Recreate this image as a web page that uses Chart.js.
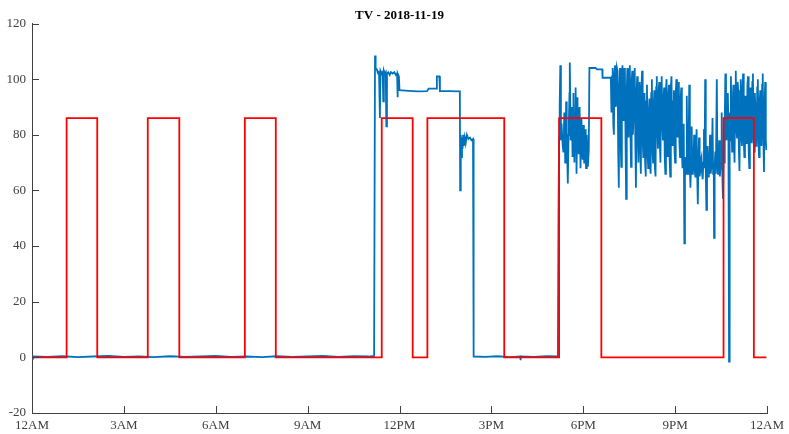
<!DOCTYPE html>
<html>
<head>
<meta charset="utf-8">
<script src="https://cdn.jsdelivr.net/npm/chart.js@4"></script>
<style>
html, body { margin: 0; padding: 0; background: #fff; }
</style>
</head>
<body>
<canvas id="tvChart" width="789" height="434"></canvas>
<script>
// x axis: hours of the day
var xTickLabels = ['12AM', '3AM', '6AM', '9AM', '12PM', '3PM', '6PM', '9PM', '12AM'];

// red on/off schedule (stepped)
var redHours = [0, 1.13, 2.13, 3.78, 4.81, 6.95, 7.96, 11.42, 12.43, 12.91, 15.42, 17.21, 18.59, 22.58, 23.57, 23.98];
var redValues = [0, 86, 0, 86, 0, 86, 0, 86, 0, 86, 0, 86, 0, 86, 0, 0];

// blue power readings, [hour, value]
var blueIdleMorning = [[0, -0.5], [0.03, 0.3], [0.5, 0.2], [1.0, 0.4], [1.5, 0.1], [2.0, 0.3], [2.5, 0.5], [3.0, 0.2],
    [3.5, 0.3], [4.0, 0.1], [4.5, 0.4], [5.0, 0.2], [5.5, 0.3], [6.0, 0.5], [6.5, 0.2], [7.0, 0.3], [7.5, 0.1],
    [8.0, 0.4], [8.5, 0.2], [9.0, 0.3], [9.5, 0.5], [10.0, 0.2], [10.5, 0.4], [11.0, 0.3], [11.17, 0.5]];

var blueNoon = [[11.19, 0.5], [11.20, 108.5], [11.22, 104], [11.26, 103.5], [11.30, 102], [11.33, 103], [11.36, 86],
    [11.38, 103], [11.42, 102], [11.45, 102.5], [11.47, 92], [11.49, 103], [11.52, 102], [11.55, 102.5], [11.57, 83],
    [11.59, 102], [11.63, 102.5], [11.68, 101.5], [11.72, 102.5], [11.78, 102], [11.83, 102.5], [11.88, 101.5],
    [11.92, 102], [11.93, 93.5], [11.95, 102], [11.98, 101], [12.00, 96], [12.3, 95.8], [12.6, 95.6], [12.9, 95.7],
    [12.95, 96.6], [13.2, 96.6], [13.22, 101], [13.30, 101], [13.32, 95.7], [13.6, 95.7], [13.97, 95.6],
    [13.98, 60], [14.00, 80], [14.02, 72], [14.04, 79], [14.06, 75], [14.08, 80], [14.10, 76], [14.13, 79],
    [14.16, 77], [14.20, 80], [14.25, 78.5], [14.30, 79], [14.35, 78], [14.40, 78.5]];

var blueIdleAfternoon = [[14.42, 0.3], [14.8, 0.2], [15.2, 0.4], [15.6, 0.1], [15.94, 0.3], [15.95, -1], [15.96, 0.3],
    [16.4, 0.2], [16.8, 0.4], [17.17, 0.3]];

var blueEvening = [[17.19, 50], [17.21, 79], [17.23, 90], [17.25, 105], [17.27, 78], [17.29, 84], [17.31, 80],
    [17.33, 76], [17.35, 74], [17.37, 82], [17.38, 88], [17.40, 78], [17.41, 70], [17.43, 80], [17.44, 92],
    [17.46, 82], [17.47, 75], [17.49, 70], [17.50, 62.5], [17.52, 80], [17.53, 85], [17.55, 95], [17.56, 106],
    [17.58, 88], [17.59, 78], [17.61, 84], [17.62, 90], [17.64, 80], [17.65, 72], [17.67, 85], [17.68, 95],
    [17.70, 80], [17.71, 70], [17.73, 88], [17.75, 97], [17.77, 78], [17.78, 66], [17.80, 85], [17.81, 93.5],
    [17.83, 80], [17.84, 73], [17.86, 84], [17.88, 90], [17.90, 76], [17.91, 68], [17.93, 80], [17.94, 86],
    [17.96, 76], [17.97, 71], [17.99, 78], [18.00, 83.5], [18.02, 75], [18.03, 70], [18.05, 78], [18.06, 82],
    [18.08, 72], [18.09, 68], [18.11, 76], [18.12, 80], [18.14, 72], [18.15, 68.5], [18.18, 74.5], [18.20, 104],
    [18.40, 104], [18.45, 103.5], [18.62, 103.5], [18.63, 100.5], [18.90, 100.5]];

var blueNight = [
    [18.92, 88], [18.94, 101], [18.96, 104], [18.98, 84], [19.00, 80], [19.02, 102], [19.04, 105], [19.06, 90],
    [19.08, 92], [19.10, 104], [19.12, 103], [19.14, 75], [19.16, 61], [19.18, 97], [19.20, 104], [19.22, 80],
    [19.24, 68.5], [19.26, 100], [19.28, 105], [19.30, 88], [19.32, 85], [19.34, 104], [19.36, 102], [19.38, 78],
    [19.40, 57], [19.42, 96], [19.44, 104], [19.46, 84], [19.48, 79], [19.50, 103], [19.52, 105], [19.54, 82],
    [19.56, 68.5], [19.58, 99], [19.60, 103], [19.62, 80], [19.64, 86], [19.66, 102], [19.68, 104], [19.70, 77],
    [19.72, 61], [19.74, 95], [19.76, 101],
    [19.78, 80], [19.80, 70], [19.82, 94], [19.84, 99], [19.86, 74], [19.88, 66], [19.90, 97], [19.92, 103],
    [19.94, 78], [19.96, 72], [19.98, 90], [20.00, 95], [20.02, 70], [20.04, 65], [20.06, 92], [20.08, 98],
    [20.10, 73], [20.12, 68], [20.14, 88], [20.16, 93], [20.18, 69], [20.20, 66], [20.22, 95], [20.24, 100],
    [20.26, 75], [20.28, 70], [20.30, 91], [20.32, 96], [20.34, 68], [20.36, 65], [20.38, 97], [20.40, 101],
    [20.42, 82], [20.44, 75], [20.46, 95], [20.48, 99], [20.50, 77], [20.52, 70], [20.54, 98], [20.56, 101],
    [20.58, 84], [20.60, 78], [20.62, 93], [20.64, 97], [20.66, 72], [20.68, 66], [20.70, 96], [20.72, 100],
    [20.74, 80], [20.76, 72], [20.78, 94], [20.80, 98], [20.82, 71], [20.84, 65], [20.86, 97], [20.88, 101],
    [20.90, 82], [20.92, 76], [20.94, 92], [20.96, 96], [20.98, 74], [21.00, 70], [21.02, 95], [21.04, 100],
    [21.06, 84], [21.08, 79], [21.10, 96], [21.12, 99], [21.14, 77], [21.16, 72], [21.18, 93], [21.20, 97],
    [21.22, 74], [21.24, 68], [21.26, 80],
    [21.28, 84], [21.30, 41], [21.32, 70], [21.34, 72], [21.36, 66], [21.38, 94], [21.40, 70], [21.42, 66],
    [21.44, 75], [21.46, 98], [21.48, 68], [21.50, 61], [21.52, 72], [21.54, 83], [21.56, 66], [21.58, 68],
    [21.60, 71], [21.62, 80], [21.64, 67], [21.66, 65], [21.68, 70], [21.70, 82], [21.72, 66], [21.74, 55],
    [21.76, 70], [21.78, 79], [21.80, 65], [21.82, 67], [21.84, 71], [21.86, 72], [21.88, 66], [21.90, 64],
    [21.92, 70], [21.94, 82], [21.96, 68], [21.98, 100], [22.00, 67], [22.02, 53], [22.04, 70], [22.06, 76],
    [22.08, 65], [22.10, 66], [22.12, 71], [22.14, 80], [22.16, 66], [22.18, 68], [22.20, 70], [22.22, 86],
    [22.24, 66], [22.26, 70], [22.27, 43], [22.29, 68], [22.31, 74], [22.33, 66], [22.36, 100], [22.38, 70],
    [22.40, 66], [22.42, 71], [22.44, 78], [22.46, 65], [22.48, 68], [22.50, 70], [22.52, 88], [22.54, 66],
    [22.56, 57], [22.58, 72], [22.60, 70],
    [22.62, 85], [22.64, 102], [22.66, 80], [22.68, 78], [22.70, 90], [22.72, 95], [22.74, 82], [22.76, -1.5],
    [22.78, 88], [22.80, 78], [22.82, 101], [22.84, 84], [22.86, 74], [22.88, 92], [22.90, 98], [22.92, 77],
    [22.94, 70], [22.96, 95], [22.98, 103], [23.00, 82], [23.02, 79], [23.04, 99], [23.06, 96], [23.08, 75],
    [23.10, 67], [23.12, 91], [23.14, 100], [23.16, 80], [23.18, 76], [23.20, 97], [23.22, 102], [23.24, 78],
    [23.26, 72], [23.28, 89], [23.30, 94], [23.32, 77], [23.34, 80], [23.36, 98], [23.38, 101], [23.40, 75],
    [23.42, 68], [23.44, 93], [23.46, 97], [23.48, 80], [23.50, 77], [23.52, 99], [23.54, 102], [23.56, 79],
    [23.58, 74], [23.60, 95], [23.62, 90], [23.64, 76], [23.66, 79], [23.68, 97], [23.70, 100], [23.72, 78],
    [23.74, 72], [23.76, 92], [23.78, 96], [23.80, 79], [23.82, 76], [23.84, 98], [23.86, 102], [23.88, 80],
    [23.90, 66.6], [23.92, 90], [23.94, 99], [23.96, 78], [23.98, 74.5]];

var axisColor = '#404040';
var serif = "'Liberation Serif', 'Times New Roman', serif";

var bluePoints = blueIdleMorning.concat(blueNoon, blueIdleAfternoon, blueEvening, blueNight)
    .map(function (p) { return { x: p[0], y: p[1] }; });
var redPoints = redHours.map(function (h, i) { return { x: h, y: redValues[i] }; });

// inward tick marks like the original plot
var tickMarks = {
    id: 'tickMarks',
    afterDraw: function (chart) {
        var ctx = chart.ctx, a = chart.chartArea, xs = chart.scales.x, ys = chart.scales.y;
        ctx.save();
        ctx.strokeStyle = axisColor;
        ctx.lineWidth = 1;
        ctx.beginPath();
        xs.ticks.forEach(function (t) {
            var px = Math.round(xs.getPixelForValue(t.value)) + 0.5;
            ctx.moveTo(px, a.bottom);
            ctx.lineTo(px, a.bottom - 7);
        });
        ys.ticks.forEach(function (t) {
            var py = Math.round(ys.getPixelForValue(t.value)) + 0.5;
            ctx.moveTo(a.left, py);
            ctx.lineTo(a.left + 7, py);
        });
        ctx.stroke();
        ctx.restore();
    }
};

var canvas = document.getElementById('tvChart');
var tvChart = new Chart(canvas, {
    type: 'line',
    data: {
        datasets: [{
            label: 'schedule',
            data: redPoints,
            stepped: 'before',
            borderColor: '#ff0000',
            borderWidth: 1.8,
            pointRadius: 0,
            fill: false
        }, {
            label: 'TV',
            data: bluePoints,
            borderColor: '#0072bd',
            borderWidth: 1.8,
            pointRadius: 0,
            tension: 0,
            fill: false
        }]
    },
    options: {
        responsive: false,
        animation: false,
        layout: { padding: { left: 0, right: 18.5, top: 0, bottom: 0 } },
        plugins: {
            legend: { display: false },
            tooltip: { enabled: false },
            title: {
                display: true,
                text: 'TV - 2018-11-19',
                fullSize: false,
                color: '#000',
                font: { family: serif, size: 13, weight: 'bold', lineHeight: 1.0 },
                padding: { top: 9, bottom: 1.5 }
            }
        },
        scales: {
            x: {
                type: 'linear',
                min: 0,
                max: 24,
                afterFit: function (s) { s.height = 21; },
                grid: { display: false, drawTicks: false },
                border: { display: true, color: axisColor, width: 1 },
                ticks: {
                    stepSize: 3,
                    autoSkip: false,
                    maxRotation: 0,
                    padding: 5,
                    color: axisColor,
                    font: { family: serif, size: 13 },
                    callback: function (v) { return xTickLabels[v / 3]; }
                }
            },
            y: {
                min: -20,
                max: 120,
                afterFit: function (s) { s.width = 32; },
                grid: { display: false, drawTicks: false },
                border: { display: true, color: axisColor, width: 1 },
                ticks: {
                    stepSize: 20,
                    padding: 6,
                    color: axisColor,
                    font: { family: serif, size: 13 }
                }
            }
        }
    },
    plugins: [tickMarks]
});
</script>
</body>
</html>
